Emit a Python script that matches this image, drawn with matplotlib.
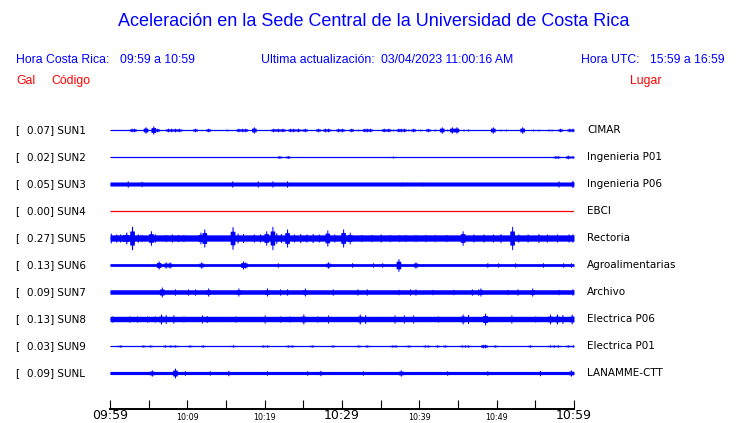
import numpy as np
import matplotlib
matplotlib.use("Agg")
import matplotlib.pyplot as plt

W, H, DPI = 740, 423, 100

# ---------------- data ----------------
codes = ["SUN1", "SUN2", "SUN3", "SUN4", "SUN5", "SUN6", "SUN7", "SUN8", "SUN9", "SUNL"]
peak_gal = [0.07, 0.02, 0.05, 0.00, 0.27, 0.13, 0.09, 0.13, 0.03, 0.09]
places = ["CIMAR", "Ingenieria P01", "Ingenieria P06", "EBCI", "Rectoria",
          "Agroalimentarias", "Archivo", "Electrica P06", "Electrica P01", "LANAMME-CTT"]
# steady noise half-amplitude of each trace (Gal)
background_gal = [0.0, 0.0, 0.045, 0.0, 0.07, 0.03, 0.05, 0.06, 0.0, 0.035]

# bursts: (minutes after 09:59, half-amplitude in Gal)
events_sun1 = [(2.8, 0.04), (3.1, 0.04), (4.6, 0.07), (5.6, 0.09), (6.1, 0.04), (7.5, 0.04),
               (7.9, 0.04), (8.4, 0.04), (8.9, 0.04), (9.2, 0.02), (11.0, 0.04), (12.7, 0.04),
               (15.1, 0.02), (16.6, 0.04), (17.1, 0.04), (17.5, 0.04), (18.6, 0.07), (21.1, 0.04),
               (21.7, 0.04), (22.3, 0.04), (22.6, 0.02), (23.3, 0.04), (23.7, 0.04), (24.3, 0.04),
               (24.8, 0.02), (25.2, 0.04), (26.9, 0.04), (27.8, 0.04), (28.2, 0.04), (29.5, 0.04),
               (30.0, 0.04), (31.2, 0.04), (32.1, 0.02), (32.9, 0.04), (33.2, 0.04), (33.6, 0.04),
               (35.4, 0.04), (36.0, 0.04), (36.6, 0.02), (37.3, 0.04), (37.6, 0.04), (38.0, 0.04),
               (38.6, 0.02), (39.2, 0.04), (40.1, 0.02), (41.1, 0.04), (42.0, 0.02), (42.9, 0.07),
               (43.6, 0.02), (44.2, 0.07), (44.8, 0.07), (45.7, 0.02), (46.3, 0.02), (49.5, 0.07),
               (50.5, 0.02), (51.2, 0.02), (53.3, 0.07), (54.7, 0.02), (55.4, 0.02), (56.7, 0.02),
               (57.1, 0.02), (58.2, 0.04), (59.4, 0.04), (59.8, 0.04)]
events_sun2 = [(21.9, 0.03), (23.0, 0.03), (36.6, 0.02), (57.6, 0.03), (57.9, 0.03),
               (59.2, 0.04), (59.8, 0.03)]
events_sun3 = [(2.3, 0.07), (4.1, 0.06), (15.8, 0.07), (19.1, 0.07), (21.0, 0.07), (22.9, 0.07),
               (37.8, 0.05), (40.4, 0.05), (58.0, 0.07), (59.8, 0.08)]
events_sun4 = []
events_sun5 = [(0.1, 0.11), (0.8, 0.09), (1.3, 0.09), (1.7, 0.08), (2.1, 0.13), (2.85, 0.26),
               (3.6, 0.09), (4.1, 0.08), (5.3, 0.16), (5.8, 0.09), (7.2, 0.08), (8.0, 0.09),
               (8.8, 0.08), (9.5, 0.08), (11.7, 0.13), (12.2, 0.2), (13.5, 0.07), (14.5, 0.07),
               (15.85, 0.25), (16.5, 0.11), (17.2, 0.1), (18.6, 0.09), (19.4, 0.09), (20.2, 0.16),
               (21.0, 0.26), (21.5, 0.12), (22.1, 0.1), (22.9, 0.2), (23.8, 0.09), (24.6, 0.1),
               (25.4, 0.09), (26.2, 0.1), (27.0, 0.09), (28.1, 0.18), (29.0, 0.09), (30.15, 0.2),
               (31.0, 0.13), (32.5, 0.08), (33.8, 0.08), (35.0, 0.09), (36.2, 0.08), (37.4, 0.08),
               (38.2, 0.08), (39.5, 0.08), (40.8, 0.08), (42.0, 0.08), (43.5, 0.08), (45.6, 0.16),
               (47.0, 0.09), (48.3, 0.09), (49.5, 0.09), (50.5, 0.1), (52.0, 0.26), (52.8, 0.09),
               (54.0, 0.09), (55.4, 0.1), (56.5, 0.09), (57.8, 0.09), (59.3, 0.09), (59.8, 0.09)]
events_sun6 = [(6.3, 0.09), (7.2, 0.07), (7.7, 0.07), (11.8, 0.07), (17.2, 0.09), (17.5, 0.07),
               (21.7, 0.05), (28.2, 0.07), (31.3, 0.05), (34.0, 0.05), (35.2, 0.05), (37.3, 0.14),
               (39.5, 0.07), (48.8, 0.05), (50.2, 0.05), (52.4, 0.05), (56.0, 0.05), (58.6, 0.05),
               (59.6, 0.05)]
events_sun7 = [(6.7, 0.11), (8.4, 0.07), (10.1, 0.07), (11.0, 0.07), (12.7, 0.09), (16.6, 0.09),
               (20.3, 0.09), (22.0, 0.07), (22.9, 0.07), (25.2, 0.09), (28.8, 0.07), (32.0, 0.07),
               (33.2, 0.07), (37.3, 0.06), (38.8, 0.07), (39.5, 0.07), (41.7, 0.06), (44.4, 0.06),
               (46.8, 0.07), (47.6, 0.07), (47.9, 0.09), (51.4, 0.06), (52.7, 0.07), (54.6, 0.09),
               (58.0, 0.06), (59.8, 0.07)]
events_sun8 = [(0.3, 0.07), (2.5, 0.07), (3.5, 0.07), (4.8, 0.07), (5.8, 0.07), (6.6, 0.11),
               (7.2, 0.1), (8.2, 0.09), (9.5, 0.07), (11.9, 0.09), (12.5, 0.08), (16.2, 0.07),
               (20.0, 0.09), (22.0, 0.07), (23.2, 0.07), (25.0, 0.11), (26.8, 0.07), (28.2, 0.09),
               (32.3, 0.11), (33.0, 0.1), (36.8, 0.09), (38.0, 0.09), (39.2, 0.09), (42.4, 0.07),
               (45.6, 0.11), (46.3, 0.1), (48.5, 0.13), (51.9, 0.09), (55.0, 0.07), (56.9, 0.11),
               (57.8, 0.11), (58.5, 0.1), (59.7, 0.11)]
events_sun9 = [(1.3, 0.025), (4.3, 0.025), (5.2, 0.025), (7.1, 0.025), (7.8, 0.025), (8.4, 0.025),
               (10.3, 0.025), (12.0, 0.025), (15.9, 0.025), (19.8, 0.025), (20.3, 0.025),
               (23.0, 0.025), (23.5, 0.025), (26.1, 0.025), (28.8, 0.025), (32.1, 0.025),
               (33.2, 0.025), (36.5, 0.025), (36.9, 0.025), (38.6, 0.025), (40.7, 0.025),
               (41.1, 0.025), (42.3, 0.025), (43.3, 0.025), (45.5, 0.025), (45.9, 0.025),
               (46.3, 0.025), (48.2, 0.04), (48.5, 0.04), (49.8, 0.025), (54.3, 0.025),
               (56.9, 0.025), (57.4, 0.025), (57.9, 0.025), (59.2, 0.025), (59.9, 0.025)]
events_sunl = [(5.4, 0.07), (8.4, 0.11), (9.7, 0.05), (12.9, 0.05), (15.3, 0.06), (20.3, 0.05),
               (25.5, 0.05), (27.2, 0.06), (32.7, 0.05), (37.6, 0.07), (43.6, 0.05), (48.8, 0.05),
               (55.6, 0.06), (59.6, 0.07)]
events = [events_sun1, events_sun2, events_sun3, events_sun4, events_sun5,
          events_sun6, events_sun7, events_sun8, events_sun9, events_sunl]
trace_colors = ["#0000ff"] * 3 + ["#ff0000"] + ["#0000ff"] * 6

tick_minutes = list(range(0, 61, 5))
tick_labels = ["09:59", "", "10:09", "", "10:19", "", "10:29", "", "10:39", "", "10:49", "", "10:59"]
big_ticks = ["09:59", "10:29", "10:59"]

title = "Aceleración en la Sede Central de la Universidad de Costa Rica"

# ---------------- figure ----------------
fig = plt.figure(figsize=(W / DPI, H / DPI), dpi=DPI)
fig.patch.set_facecolor("white")


def px(x, y):
    return x / W, 1 - y / H


BLUE = "#0000ff"
RED = "#ff0000"
hdr_font = "Liberation Sans"

fig.text(*px(374, 22), title, ha="center", va="center", color=BLUE,
         fontsize=13.0, family=hdr_font)

hs = 8.8
fig.text(*px(16, 60), "Hora Costa Rica:", ha="left", va="center", color=BLUE, fontsize=hs, family=hdr_font)
fig.text(*px(120, 60), "09:59 a 10:59", ha="left", va="center", color=BLUE, fontsize=hs, family=hdr_font)
fig.text(*px(261, 60), "Ultima actualización:", ha="left", va="center", color=BLUE, fontsize=hs, family=hdr_font)
fig.text(*px(381, 60), "03/04/2023 11:00:16 AM", ha="left", va="center", color=BLUE, fontsize=hs, family=hdr_font)
fig.text(*px(581, 60), "Hora UTC:", ha="left", va="center", color=BLUE, fontsize=hs, family=hdr_font)
fig.text(*px(650, 60), "15:59 a 16:59", ha="left", va="center", color=BLUE, fontsize=hs, family=hdr_font)

fig.text(*px(16, 81), "Gal", ha="left", va="center", color=RED, fontsize=hs, family=hdr_font)
fig.text(*px(51, 81), "Código", ha="left", va="center", color=RED, fontsize=hs, family=hdr_font)
fig.text(*px(630, 81), "Lugar", ha="left", va="center", color=RED, fontsize=hs, family=hdr_font)

# trace axes: x in minutes, y in Gal (traces 0.6 Gal apart)
SPACING = 0.6
top_px, bot_px = 115, 409
ax = fig.add_axes([110 / W, (H - bot_px) / H, 464 / W, (bot_px - top_px) / H])
ax.set_xlim(0, 60)
y_bottom = -(bot_px - 130) / 45.0
y_top = (130 - top_px) / 45.0
ax.set_ylim(y_bottom, y_top)
ax.set_facecolor("none")

t = np.linspace(0, 60, 6001)
for i, code in enumerate(codes):
    off = -i * SPACING
    env = np.full_like(t, background_gal[i])
    for tm, a in events[i]:
        d = np.abs(t - tm)
        shape = np.where(d < 0.07, a, np.where(d < 0.3, 0.6 * a, 0.0))
        env = np.maximum(env, shape)
    col = trace_colors[i]
    if env.max() > 0:
        ax.fill_between(t, off - env, off + env, color=col, lw=0, antialiased=True)
    ax.plot([0, 60], [off, off], color=col, lw=0.9, solid_capstyle="butt")

    ax.text(-95 / 7.7333, off, "[", ha="left", va="center", fontsize=7.5,
            family="DejaVu Sans", color="black")
    ax.text(-83 / 7.7333, off, f"{peak_gal[i]:.2f}] {code}", ha="left", va="center",
            fontsize=7.5, family="DejaVu Sans", color="black")
    ax.text(60 + 13 / 7.7333, off, places[i], ha="left", va="center", fontsize=7.5,
            family="DejaVu Sans", color="black")

for s in ["top", "left", "right"]:
    ax.spines[s].set_visible(False)
ax.spines["bottom"].set_linewidth(1.4)
ax.set_yticks([])
ax.set_xticks(tick_minutes)
ax.set_xticklabels(tick_labels, family="DejaVu Sans")
ax.tick_params(axis="x", direction="in", length=6.5, width=0.8, pad=0.0, colors="black")
for lab in ax.get_xticklabels():
    if lab.get_text() in big_ticks:
        lab.set_fontsize(9.0)
    else:
        lab.set_fontsize(5.8)
        lab.set_y(-0.012)

fig.savefig("out.png", dpi=DPI, facecolor="white")
